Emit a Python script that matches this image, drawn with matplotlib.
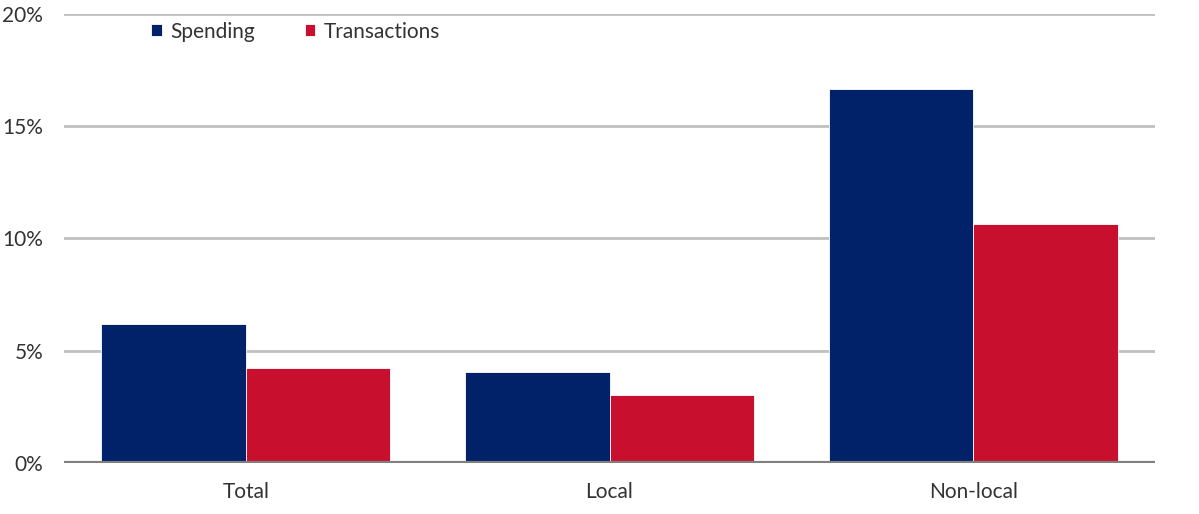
import numpy as np
import matplotlib.pyplot as plt
from matplotlib.ticker import FuncFormatter

# data (percent)
categories = ['Total', 'Local', 'Non-local']
spending = [6.2, 4.05, 16.65]
transactions = [4.25, 3.05, 10.65]
y_ticks = [0, 5, 10, 15, 20]

navy = '#012169'
red = '#c8102e'

plt.rcParams['font.family'] = ['Lato', 'DejaVu Sans']

fig = plt.figure(figsize=(11.99, 5.14), dpi=100)
ax = fig.add_axes([64 / 1199, (514 - 463) / 514, (1155 - 64) / 1199, (463 - 14) / 514])

x = np.arange(len(categories))
w = 0.397
ax.bar(x - w / 2, spending, width=w, color=navy, label='Spending', zorder=3,
       edgecolor='white', linewidth=0.6)
ax.bar(x + w / 2, transactions, width=w, color=red, label='Transactions', zorder=3,
       edgecolor='white', linewidth=0.6)

ax.set_xlim(-0.5, 2.5)
ax.set_ylim(0, 20)
ax.set_yticks(y_ticks)
ax.yaxis.set_major_formatter(FuncFormatter(lambda v, p: f'{v:.0f}%'))
ax.set_xticks(x)
ax.set_xticklabels(categories)

# gridlines + zero line
for t in y_ticks[1:]:
    ax.axhline(t, color='#c0c0c0', linewidth=2, zorder=1)
ax.axhline(0, color='#808080', linewidth=3, zorder=4)

for s in ax.spines.values():
    s.set_visible(False)
ax.tick_params(axis='both', length=0, labelsize=15, colors='#333333')
ax.tick_params(axis='y', pad=15)
ax.tick_params(axis='x', pad=14)

ax.legend(loc='upper left', bbox_to_anchor=(0.063, 1.025), ncol=2, frameon=False,
          fontsize=15, handlelength=0.5, handleheight=0.5, handletextpad=0.4,
          columnspacing=2.4, labelcolor='#333333')

fig.savefig('out.png', dpi=100)
